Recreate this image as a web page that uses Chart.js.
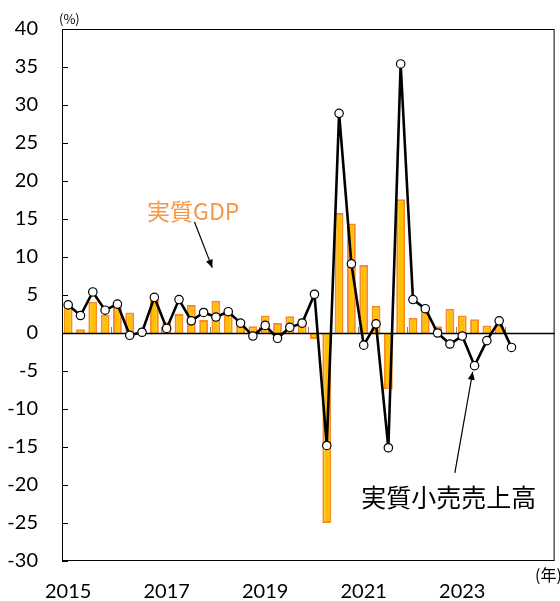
<!DOCTYPE html>
<html><head><meta charset="utf-8">
<script src="https://cdn.jsdelivr.net/npm/chart.js@4"></script>
<style>html,body{margin:0;padding:0;background:#fff;overflow:hidden}#wrap{width:560px;height:601px}</style>
</head><body><div id="wrap"><canvas id="c" width="560" height="601"></canvas></div>
<script>
const quarters = [
 '2015Q1','2015Q2','2015Q3','2015Q4','2016Q1','2016Q2','2016Q3','2016Q4',
 '2017Q1','2017Q2','2017Q3','2017Q4','2018Q1','2018Q2','2018Q3','2018Q4',
 '2019Q1','2019Q2','2019Q3','2019Q4','2020Q1','2020Q2','2020Q3','2020Q4',
 '2021Q1','2021Q2','2021Q3','2021Q4','2022Q1','2022Q2','2022Q3','2022Q4',
 '2023Q1','2023Q2','2023Q3','2023Q4','2024Q1','2024Q2','2024Q3','2024Q4'
];
const xTickLabels = ['2015','2017','2019','2021','2023'];
const gdp = [3.9,0.5,4.1,2.4,3.9,2.7,0,4.4,1.4,2.5,3.7,1.7,4.25,3.0,1.6,0.9,2.3,1.3,2.2,1.9,
             -0.8,-25.0,15.8,14.4,8.95,3.6,-7.4,17.6,2.0,3.4,0.9,3.2,2.3,1.8,1.0,1.0];
const retail = [3.7,2.3,5.4,3.0,3.8,-0.3,0.1,4.7,0.6,4.4,1.6,2.7,2.1,2.8,1.3,-0.4,1.0,-0.7,0.75,1.3,
                5.1,-14.8,28.9,9.1,-1.6,1.2,-15.1,35.4,4.4,3.2,0.0,-1.45,-0.4,-4.3,-1.0,1.6,-1.9];
const yMin = -30, yMax = 40, yStep = 5;
const gdpLabel = '実質GDP', retailLabel = '実質小売売上高';
const unitY = '(%)', unitX = '(年)';

const NUMFONT = 'Lato, "Liberation Sans", sans-serif';
const JPFONT = '"Noto Sans CJK JP", "Noto Sans", sans-serif';

function arrow(ctx, x1, y1, x2, y2) {
  ctx.beginPath(); ctx.moveTo(x1, y1); ctx.lineTo(x2, y2); ctx.stroke();
  const ang = Math.atan2(y2 - y1, x2 - x1), L = 8, W = 3.5;
  ctx.beginPath();
  ctx.moveTo(x2, y2);
  ctx.lineTo(x2 - L*Math.cos(ang) + W*Math.sin(ang), y2 - L*Math.sin(ang) - W*Math.cos(ang));
  ctx.lineTo(x2 - L*Math.cos(ang) - W*Math.sin(ang), y2 - L*Math.sin(ang) + W*Math.cos(ang));
  ctx.closePath(); ctx.fill();
}

function noPad(s) { s.paddingTop = 0; s.paddingBottom = 0; s.paddingLeft = 0; s.paddingRight = 0; }

const decor = {
  id: 'decor',
  beforeDatasetsDraw(chart) {
    const {ctx, scales: {x, y}} = chart;
    const y0 = Math.round(y.getPixelForValue(0));
    ctx.save();
    ctx.strokeStyle = '#808080'; ctx.lineWidth = 1;
    for (let i = 4; i < quarters.length; i += 4) {
      const px = Math.round((x.getPixelForValue(i-1) + x.getPixelForValue(i)) / 2) + 0.5;
      ctx.beginPath(); ctx.moveTo(px, y0); ctx.lineTo(px, y0 - 6); ctx.stroke();
    }
    ctx.restore();
  },
  beforeDatasetDraw(chart, args) {
    if (args.index !== 1) return;
    const {ctx, chartArea: a, scales: {y}} = chart;
    const y0 = Math.round(y.getPixelForValue(0)) + 0.5;
    ctx.save();
    ctx.strokeStyle = '#000'; ctx.lineWidth = 1.5;
    ctx.beginPath(); ctx.moveTo(a.left, y0); ctx.lineTo(a.right, y0); ctx.stroke();
    ctx.restore();
  },
  afterDraw(chart) {
    const {ctx, chartArea: a, scales: {x, y}} = chart;
    ctx.save();
    ctx.strokeStyle = '#000'; ctx.lineWidth = 1;
    ctx.strokeRect(a.left + 0.5, a.top + 0.5, a.right - a.left - 1, a.bottom - a.top - 1);
    for (let v = yMin; v <= yMax; v += yStep) {
      const py = Math.round(y.getPixelForValue(v)) + 0.5;
      ctx.beginPath(); ctx.moveTo(a.left, py); ctx.lineTo(a.left + 6, py); ctx.stroke();
    }
    ctx.fillStyle = '#000';
    ctx.textBaseline = 'middle'; ctx.textAlign = 'left';
    ctx.font = '13px ' + JPFONT;
    ctx.fillText(unitY, a.left - 3, 19);
    ctx.font = '16px ' + JPFONT;
    ctx.fillText(unitX, 535, 575);
    ctx.font = '23px ' + JPFONT;
    ctx.fillStyle = '#F79646';
    ctx.textAlign = 'center';
    ctx.fillText(gdpLabel, x.getPixelForValue(10.15), y.getPixelForValue(16.05));
    ctx.fillStyle = '#000'; ctx.strokeStyle = '#000'; ctx.lineWidth = 1.2;
    arrow(ctx, x.getPixelForValue(10.26), y.getPixelForValue(14.6), x.getPixelForValue(11.7), y.getPixelForValue(8.6));
    ctx.font = '25px ' + JPFONT;
    ctx.fillStyle = '#000';
    ctx.fillText(retailLabel, x.getPixelForValue(30.9), y.getPixelForValue(-21.6));
    arrow(ctx, x.getPixelForValue(31.4), y.getPixelForValue(-18.4), x.getPixelForValue(32.85), y.getPixelForValue(-5.1));
    ctx.restore();
  }
};

new Chart(document.getElementById('c'), {
  data: {
    labels: quarters,
    datasets: [
      { type: 'bar', label: gdpLabel, data: gdp, order: 1,
        backgroundColor: '#FFC000', borderColor: '#F98A2C', borderWidth: 2,
        categoryPercentage: 1, barPercentage: 0.72 },
      { type: 'line', label: retailLabel, data: retail, order: 0,
        borderColor: '#000', borderWidth: 2.6, tension: 0,
        pointRadius: 4.2, pointBackgroundColor: '#fff', pointBorderColor: '#000', pointBorderWidth: 1.2 }
    ]
  },
  options: {
    responsive: false, animation: false, devicePixelRatio: 1,
    layout: { padding: { top: 29, right: 3, left: 0, bottom: 0 } },
    plugins: { legend: { display: false }, tooltip: { enabled: false } },
    scales: {
      x: {
        grid: { display: false, drawTicks: false },
        border: { display: false },
        ticks: {
          autoSkip: false, maxRotation: 0, padding: 21,
          font: { family: NUMFONT, size: 20, lineHeight: 1 }, color: '#000',
          callback: (v, i) => (i % 8 === 0 && xTickLabels[i / 8]) ? xTickLabels[i / 8] : ''
        },
        afterFit: s => { s.height = 40; noPad(s); }
      },
      y: {
        min: yMin, max: yMax,
        grid: { display: false, drawTicks: false },
        border: { display: false },
        ticks: { stepSize: yStep, padding: 24, font: { family: NUMFONT, size: 20 }, color: '#000' },
        afterFit: s => { s.width = 62; noPad(s); }
      }
    }
  },
  plugins: [decor]
});
</script></body></html>
